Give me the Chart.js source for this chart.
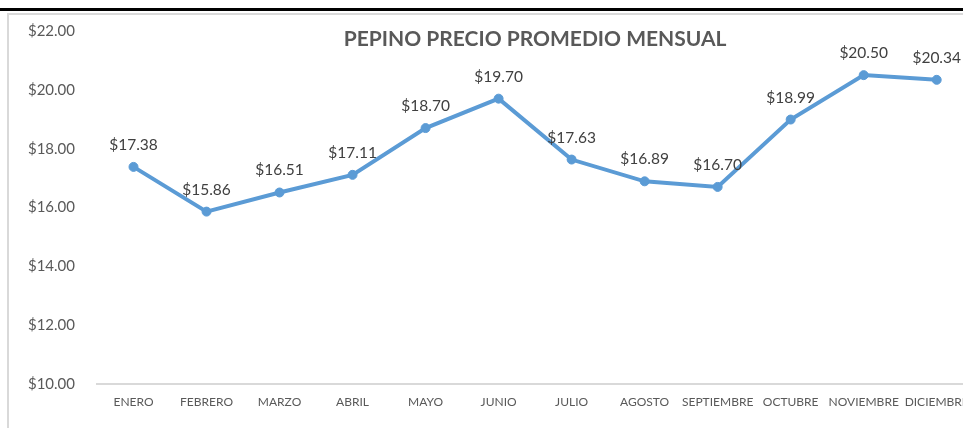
<!DOCTYPE html>
<html>
<head>
<meta charset="utf-8">
<script src="https://cdn.jsdelivr.net/npm/chart.js@4"></script>
<style>
  html, body { margin: 0; padding: 0; background: #fff; overflow: hidden; }
  #topline { position: absolute; left: 0; top: 8px; width: 963px; height: 3px; background: #000; }
  #frame { position: absolute; left: 7px; top: 13px; width: 960px; height: 420px;
           border-left: 2px solid #d9d9d9; border-top: 2px solid #d9d9d9; }
  #wrap { position: absolute; left: 0; top: 0; width: 980px; height: 428px; }
</style>
</head>
<body>
<div id="topline"></div>
<div id="frame"></div>
<div id="wrap"><canvas id="chart"></canvas></div>
<script>
// chart data
const months = ["ENERO", "FEBRERO", "MARZO", "ABRIL", "MAYO", "JUNIO",
  "JULIO", "AGOSTO", "SEPTIEMBRE", "OCTUBRE", "NOVIEMBRE", "DICIEMBRE"];
const prices = [17.38, 15.86, 16.51, 17.11, 18.70, 19.70, 17.63, 16.89, 16.70, 18.99, 20.50, 20.34];
const chartTitle = "PEPINO PRECIO PROMEDIO MENSUAL";
const yMin = 10;
const yMax = 22;
const yStep = 2;

const fontFamily = "Lato, 'Open Sans', sans-serif";

// draws the value above each point
const valueLabels = {
  id: "valueLabels",
  afterDatasetsDraw(chart) {
    const ctx = chart.ctx;
    const meta = chart.getDatasetMeta(0);
    ctx.save();
    ctx.font = "15.5px " + fontFamily;
    ctx.fillStyle = "#404040";
    ctx.textAlign = "center";
    ctx.textBaseline = "middle";
    meta.data.forEach((pt, i) => {
      ctx.fillText("$" + prices[i].toFixed(2), pt.x, pt.y - 22);
    });
    ctx.restore();
  }
};

// title sits inside the plot area
const overlayTitle = {
  id: "overlayTitle",
  afterDraw(chart) {
    const ctx = chart.ctx;
    const area = chart.chartArea;
    ctx.save();
    ctx.font = "bold 21px " + fontFamily;
    ctx.fillStyle = "#595959";
    ctx.textAlign = "center";
    ctx.textBaseline = "middle";
    ctx.fillText(chartTitle, (area.left + area.right) / 2, area.top + 8);
    ctx.restore();
  }
};

const chartCanvas = document.getElementById("chart");

new Chart(chartCanvas, {
  type: "line",
  data: {
    labels: months,
    datasets: [{
      data: prices,
      borderColor: "#5B9BD5",
      backgroundColor: "#5B9BD5",
      borderWidth: 4,
      pointRadius: 4.5,
      pointBorderWidth: 1,
      pointBorderColor: "#5B9BD5",
      tension: 0
    }]
  },
  options: {
    responsive: true,
    maintainAspectRatio: false,
    animation: false,
    layout: { padding: { top: 24, left: 0, right: 0, bottom: 0 } },
    plugins: {
      legend: { display: false },
      tooltip: { enabled: false },
      title: { display: false }
    },
    scales: {
      x: {
        offset: true,
        grid: { display: false, drawTicks: false },
        border: { display: true, color: "#d9d9d9", width: 2 },
        ticks: {
          color: "#595959",
          font: { family: fontFamily, size: 12 },
          padding: 11,
          maxRotation: 0,
          autoSkip: false
        },
        afterFit(scale) { scale.height = 44; }
      },
      y: {
        min: yMin,
        max: yMax,
        grid: { display: false, drawTicks: false },
        border: { display: false },
        ticks: {
          stepSize: yStep,
          color: "#595959",
          font: { family: fontFamily, size: 15 },
          padding: 22,
          callback: v => "$" + Number(v).toFixed(2)
        },
        afterFit(scale) { scale.width = 97; }
      }
    }
  },
  plugins: [valueLabels, overlayTitle]
});
</script>
</body>
</html>
